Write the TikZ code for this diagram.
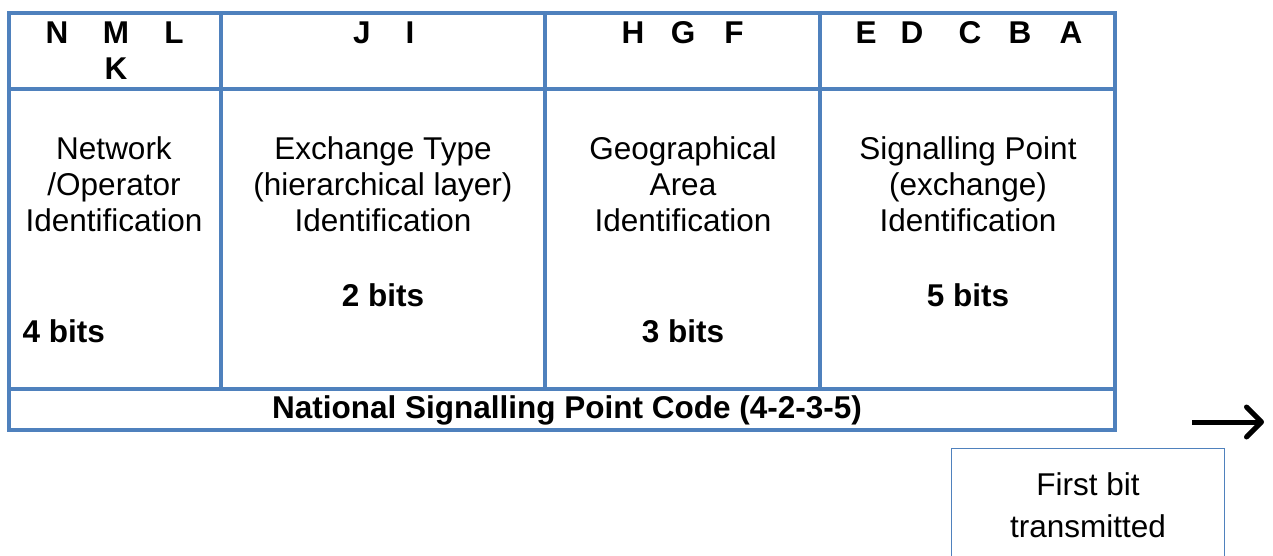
\documentclass[tikz,border=0pt]{standalone}
\usepackage{fontspec}
\setmainfont{Liberation Sans}
\usetikzlibrary{arrows.meta,positioning}
\definecolor{gridblue}{RGB}{79,129,189}

\begin{document}
\begin{tikzpicture}[x=1pt,y=-1pt,
    every node/.style={font=\fontsize{31.5}{36}\selectfont},
    bit/.style={font=\fontsize{31.5}{36}\selectfont\bfseries},
    field/.style={align=center},
    grid/.style={gridblue,line width=3.5pt}]
    \useasboundingbox[fill=white] (0,0) rectangle (1273,556);

    % Table frame
    \draw[grid] (9,13) rectangle (1115,430);%
    \draw[grid] (9,89) -- (1115,89);%
    \draw[grid] (9,389) -- (1115,389);%
    \foreach \x in {221,545,820} \draw[grid] (\x,13) -- (\x,389);%

    % Bit letters
    \foreach \l/\x in {N/57,M/116,L/174,J/362,I/410,H/633,G/683,F/734,E/866,D/912,C/970,B/1020,A/1071}
      \node[bit] (bit\l) at (\x,33) {\l};%
    \node[bit] (bitK) at (116,69) {K};%

    % Fields
    \node[field] (network) at (114,184) {Network\\/Operator\\Identification};%
    \node[field] (exchange) at (383,184) {Exchange Type\\(hierarchical layer)\\Identification};%
    \node[field] (area) at (683,184) {Geographical\\Area\\Identification};%
    \node[field] (point) at (968,184) {Signalling Point\\(exchange)\\Identification};%

    % Bit counts
    \node[bit,anchor=west] (bits4) at (19,331) {4 bits};%
    \node[bit] (bits2) at (383,295) {2 bits};%
    \node[bit] (bits3) at (683,331) {3 bits};%
    \node[bit] (bits5) at (968,295) {5 bits};%
    \node[bit] (code) at (567,410) {National Signalling Point Code (4-2-3-5)};%

    % Direction of transmission
    \coordinate (arrowtail) at (1192,422);%
    \coordinate (arrowtip) at (1264,422);%
    \draw[line width=5pt,-{Straight Barb[length=15pt,width=30pt,round]}] (arrowtail) -- (arrowtip);%
    \node[draw=gridblue,line width=1pt,anchor=north,minimum width=273pt,minimum height=114pt,
      align=center,font=\fontsize{31.5}{42}\selectfont] (firstbit) at (1088,448) {First bit\\transmitted};%
\end{tikzpicture}
\end{document}
